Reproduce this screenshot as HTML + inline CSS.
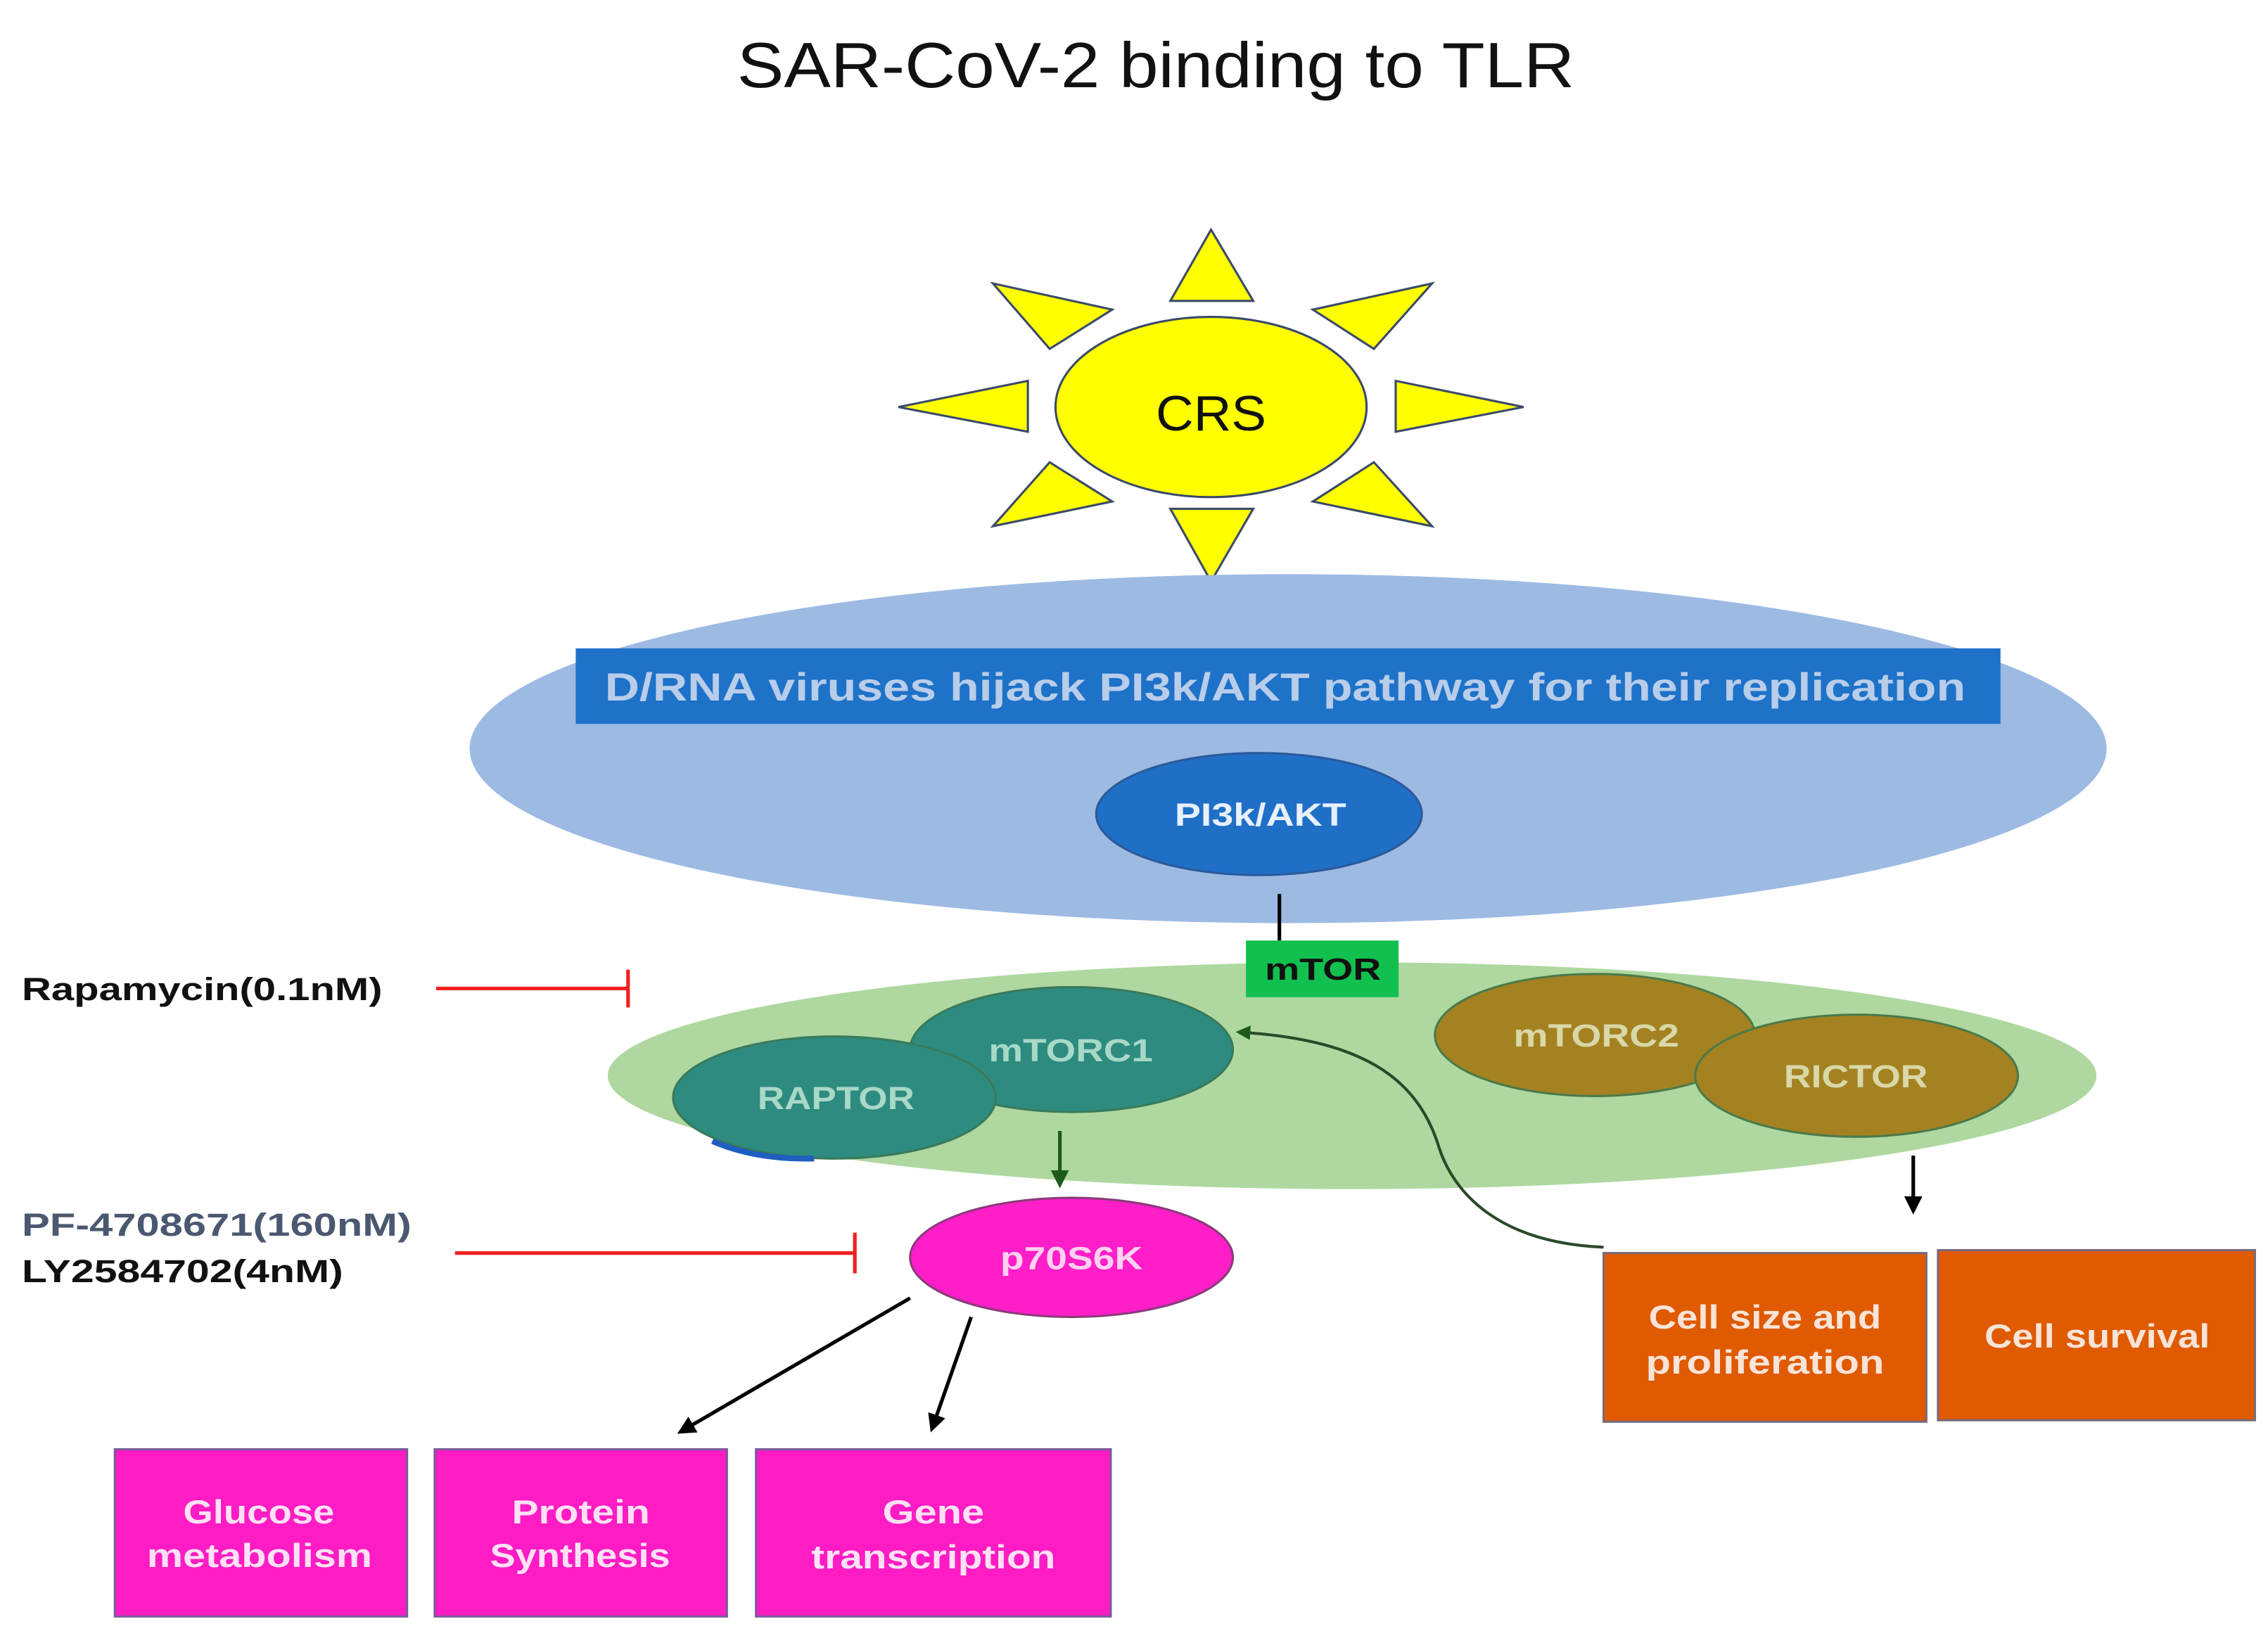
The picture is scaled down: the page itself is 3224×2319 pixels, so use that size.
<!DOCTYPE html>
<html><head><meta charset="utf-8"><style>
html,body{margin:0;padding:0;background:#fff;}
svg{display:block;}
text{font-family:"Liberation Sans","DejaVu Sans",sans-serif;}
</style></head><body>
<svg width="3224" height="2319" viewBox="0 0 1560 1122" preserveAspectRatio="none" xmlns="http://www.w3.org/2000/svg">
<defs>
<marker id="ab" viewBox="0 0 10 10" refX="8" refY="5" markerWidth="5" markerHeight="5" orient="auto"><path d="M0,0 L10,5 L0,10 z" fill="#000"/></marker>
<marker id="ag" viewBox="0 0 10 10" refX="8" refY="5" markerWidth="5" markerHeight="5" orient="auto"><path d="M0,0 L10,5 L0,10 z" fill="#1e5a1e"/></marker>
</defs>
<text x="507" y="60" font-size="44" textLength="576" lengthAdjust="spacingAndGlyphs" fill="#111">SAR-CoV-2 binding to TLR</text>
<g fill="#ffff00" stroke="#3a4a6a" stroke-width="1.5">
<polygon points="833,158 805,207 862,207"/>
<polygon points="833,400 805,350 862,350"/>
<polygon points="618,280 707,262 707,297"/>
<polygon points="1048,280 960,262 960,297"/>
<polygon points="683,195 765,213 722,240"/>
<polygon points="985,195 903,213 945,240"/>
<polygon points="683,362 722,318 765,345"/>
<polygon points="985,362 945,318 903,345"/>
<ellipse cx="833" cy="280" rx="107" ry="62"/>
</g>
<text x="795" y="296" font-size="34" textLength="76" lengthAdjust="spacingAndGlyphs" fill="#111">CRS</text>
<ellipse cx="886" cy="515" rx="563" ry="120" fill="#9dbae3"/>
<rect x="396" y="446" width="980" height="52" fill="#1e72c8"/>
<text x="416" y="482" font-size="27" textLength="936" lengthAdjust="spacingAndGlyphs" fill="#b8cdea" font-weight="bold">D/RNA viruses hijack PI3k/AKT pathway for their replication</text>
<ellipse cx="866" cy="560" rx="112" ry="42" fill="#1f6fc7" stroke="#2a5a9a" stroke-width="1.5"/>
<text x="808" y="568" font-size="22" textLength="118" lengthAdjust="spacingAndGlyphs" fill="#e8f0ff" font-weight="bold">PI3k/AKT</text>
<line x1="880" y1="615" x2="880" y2="647" stroke="#000" stroke-width="2.5"/>
<ellipse cx="930" cy="740" rx="512" ry="78" fill="#aed8a0"/>
<rect x="857" y="647" width="105" height="39" fill="#12c050"/>
<text x="870" y="674" font-size="21" textLength="80" lengthAdjust="spacingAndGlyphs" fill="#111" font-weight="bold">mTOR</text>
<g stroke="#3a7a5a" stroke-width="1.5">
<ellipse cx="737" cy="722" rx="111" ry="43" fill="#2e8b7f"/>
<ellipse cx="574" cy="755" rx="111" ry="42" fill="#2e8b7f"/>
</g>
<path d="M490,785 Q520,798 560,797" stroke="#1f5fc0" stroke-width="4" fill="none"/>
<text x="680" y="730" font-size="22" textLength="113" lengthAdjust="spacingAndGlyphs" fill="#a8d8c8" font-weight="bold">mTORC1</text>
<text x="521" y="763" font-size="22" textLength="108" lengthAdjust="spacingAndGlyphs" fill="#a8d8c8" font-weight="bold">RAPTOR</text>
<g stroke="#4a7a4a" stroke-width="1.5" fill="#a58221">
<ellipse cx="1097" cy="712" rx="110" ry="42"/>
<ellipse cx="1277" cy="740" rx="111" ry="42"/>
</g>
<text x="1041" y="720" font-size="22" textLength="114" lengthAdjust="spacingAndGlyphs" fill="#d8d8a8" font-weight="bold">mTORC2</text>
<text x="1227" y="748" font-size="22" textLength="99" lengthAdjust="spacingAndGlyphs" fill="#d8d8a8" font-weight="bold">RICTOR</text>
<text x="15" y="688" font-size="22" textLength="248" lengthAdjust="spacingAndGlyphs" fill="#111" font-weight="bold">Rapamycin(0.1nM)</text>
<line x1="300" y1="680" x2="432" y2="680" stroke="#f02020" stroke-width="2.5"/>
<line x1="432" y1="667" x2="432" y2="693" stroke="#f02020" stroke-width="2.5"/>
<text x="15" y="850" font-size="22" textLength="268" lengthAdjust="spacingAndGlyphs" fill="#4a5870" font-weight="bold">PF-4708671(160nM)</text>
<text x="15" y="882" font-size="22" textLength="221" lengthAdjust="spacingAndGlyphs" fill="#111" font-weight="bold">LY2584702(4nM)</text>
<line x1="313" y1="862" x2="588" y2="862" stroke="#f02020" stroke-width="2.5"/>
<line x1="588" y1="848" x2="588" y2="876" stroke="#f02020" stroke-width="2.5"/>
<line x1="729" y1="778" x2="729" y2="815" stroke="#1e5a1e" stroke-width="2.5" marker-end="url(#ag)"/>
<line x1="1316" y1="795" x2="1316" y2="833" stroke="#000" stroke-width="2.5" marker-end="url(#ab)"/>
<path d="M1103,858 C1030,855 1000,820 990,790 C975,740 935,715 852,710" stroke="#2a4a2a" stroke-width="2" fill="none" marker-end="url(#ag)"/>
<ellipse cx="737" cy="865" rx="111" ry="41" fill="#ff1ec8" stroke="#8a3a7a" stroke-width="1.5"/>
<text x="688" y="873" font-size="22" textLength="98" lengthAdjust="spacingAndGlyphs" fill="#ffd0f0" font-weight="bold">p70S6K</text>
<line x1="626" y1="893" x2="468" y2="985" stroke="#000" stroke-width="2.5" marker-end="url(#ab)"/>
<line x1="668" y1="906" x2="641" y2="983" stroke="#000" stroke-width="2.5" marker-end="url(#ab)"/>
<g fill="#ff1cc4" stroke="#7a5a9a" stroke-width="1.5">
<rect x="79" y="997" width="201" height="115"/>
<rect x="299" y="997" width="201" height="115"/>
<rect x="520" y="997" width="244" height="115"/>
</g>
<g font-size="23" fill="#ffe0f5" font-weight="bold" lengthAdjust="spacingAndGlyphs">
<text x="126" y="1048" textLength="104" lengthAdjust="spacingAndGlyphs">Glucose</text><text x="101" y="1078" textLength="155" lengthAdjust="spacingAndGlyphs">metabolism</text>
<text x="352" y="1048" textLength="95" lengthAdjust="spacingAndGlyphs">Protein</text><text x="337" y="1078" textLength="124" lengthAdjust="spacingAndGlyphs">Synthesis</text>
<text x="607" y="1048" textLength="70" lengthAdjust="spacingAndGlyphs">Gene</text><text x="558" y="1079" textLength="168" lengthAdjust="spacingAndGlyphs">transcription</text>
</g>
<g fill="#e05a00" stroke="#7a6a7a" stroke-width="1.5">
<rect x="1103" y="862" width="222" height="116"/>
<rect x="1333" y="860" width="218" height="117"/>
</g>
<g font-size="23" fill="#f8e4d8" font-weight="bold">
<text x="1134" y="914" textLength="160" lengthAdjust="spacingAndGlyphs">Cell size and</text><text x="1132" y="945" textLength="164" lengthAdjust="spacingAndGlyphs">proliferation</text>
<text x="1365" y="927" textLength="155" lengthAdjust="spacingAndGlyphs">Cell survival</text>
</g>
</svg>
</body></html>
